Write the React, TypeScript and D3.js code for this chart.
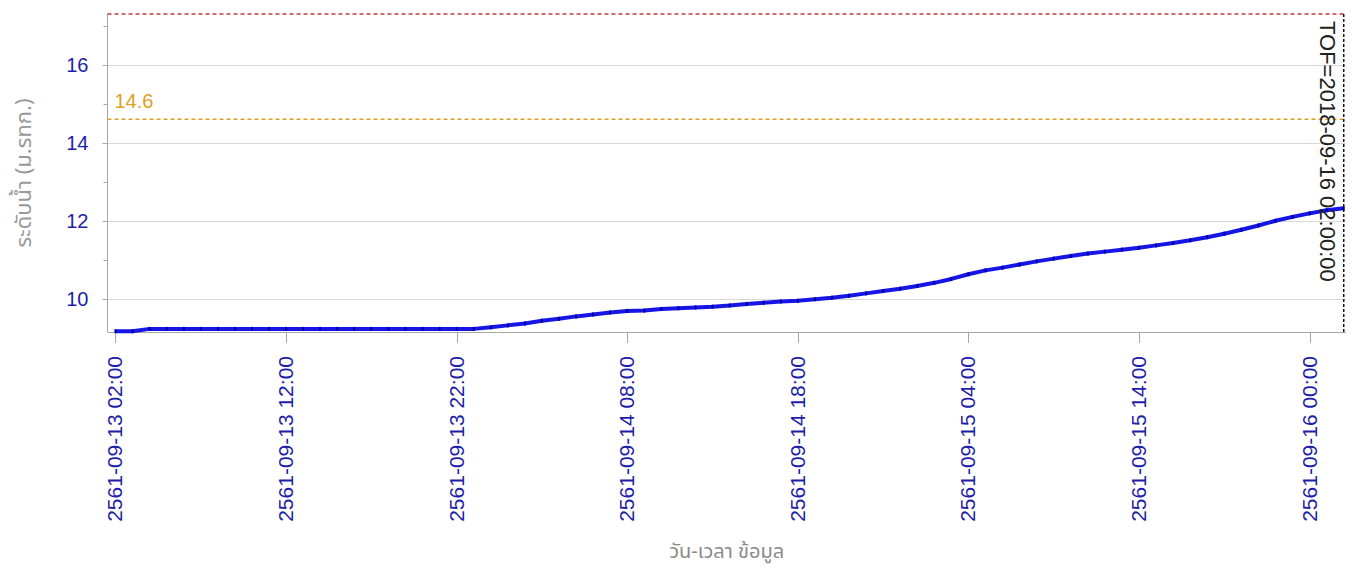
import * as d3 from 'd3';
import React, { useRef, useEffect } from 'react';

// hourly water level readings, starting 2018-09-13 02:00 (shown as BE 2561)
const startTime = new Date(2018, 8, 13, 2, 0);
const levels = [
    9.17, 9.17, 9.23, 9.23, 9.23, 9.23, 9.23, 9.23, 9.23, 9.23, 9.23,
    9.23, 9.23, 9.23, 9.23, 9.23, 9.23, 9.23, 9.23, 9.23, 9.23, 9.23,
    9.27, 9.32, 9.37, 9.44, 9.49, 9.55, 9.60, 9.65, 9.69,
    9.70, 9.74, 9.76, 9.78, 9.80, 9.83, 9.87, 9.90, 9.93, 9.95,
    9.99, 10.03, 10.08, 10.14, 10.20, 10.26, 10.33, 10.41, 10.51, 10.63,
    10.73, 10.80, 10.88, 10.96, 11.03, 11.10, 11.16, 11.21, 11.26, 11.31,
    11.37, 11.43, 11.50, 11.58, 11.67, 11.77, 11.88, 12.00, 12.10, 12.19,
    12.27, 12.32
];

// axis setup
const timeDomain = [new Date(2018, 8, 13, 1, 32), new Date(2018, 8, 16, 2, 8)];
const levelDomain = [9.15, 17.3];
const yTicks = [10, 12, 14, 16];
const yMinorTicks = [11, 13, 15, 17];
const tickEveryHours = 10;

// reference lines
const bankLevel = 17.3;
const warnLevel = 14.6;
const tofTime = new Date(2018, 8, 16, 2, 0);
const tofLabel = 'TOF=2018-09-16 02:00:00';

const yTitle = 'ระดับน้ำ (ม.รทก.)';
const xTitle = 'วัน-เวลา ข้อมูล';

const WaterLevelChart = () => {
    const svgRef = useRef(null);

    useEffect(() => {
        const width = 1356;
        const height = 571;
        const left = 107.5;
        const right = 1346;
        const top = 14;
        const bottom = 332;
        const numFont = "'Liberation Sans', Arial, sans-serif";
        const thaiFont = "Tahoma, 'Noto Sans Thai', 'Noto Sans', sans-serif";
        const tickColor = '#1e1ea8';

        const svg = d3.select(svgRef.current);
        svg.selectAll('*').remove();
        svg.attr('width', width).attr('height', height);

        const data = levels.map((v, i) => ({ t: d3.timeHour.offset(startTime, i), v }));

        const x = d3.scaleTime().domain(timeDomain).range([left, right]);
        const y = d3.scaleLinear().domain(levelDomain).range([bottom, top]);

        // grid
        svg.append('g')
            .selectAll('line')
            .data(yTicks)
            .enter().append('line')
            .attr('x1', left).attr('x2', right)
            .attr('y1', (d) => Math.round(y(d)) + 0.5)
            .attr('y2', (d) => Math.round(y(d)) + 0.5)
            .attr('stroke', '#d8d8d8');

        // y axis
        const yAxis = svg.append('g');
        yAxis.append('line')
            .attr('x1', left).attr('x2', left)
            .attr('y1', top).attr('y2', bottom)
            .attr('stroke', '#a8a8a8');
        yAxis.selectAll('.maj')
            .data(yTicks)
            .enter().append('line')
            .attr('x1', left - 5).attr('x2', left)
            .attr('y1', (d) => Math.round(y(d)) + 0.5)
            .attr('y2', (d) => Math.round(y(d)) + 0.5)
            .attr('stroke', '#a8a8a8');
        yAxis.selectAll('.min')
            .data(yMinorTicks)
            .enter().append('line')
            .attr('x1', left - 4).attr('x2', left)
            .attr('y1', (d) => Math.round(y(d)) + 0.5)
            .attr('y2', (d) => Math.round(y(d)) + 0.5)
            .attr('stroke', '#a8a8a8');
        yAxis.selectAll('text')
            .data(yTicks)
            .enter().append('text')
            .attr('x', left - 19)
            .attr('y', (d) => y(d))
            .attr('dy', '0.36em')
            .attr('text-anchor', 'end')
            .style('font-family', numFont)
            .style('font-size', '20px')
            .style('fill', tickColor)
            .text((d) => d);

        // x axis
        const xTickValues = data.filter((d, i) => i % tickEveryHours === 0).map((d) => d.t);
        const fmt = d3.timeFormat('-%m-%d %H:%M');
        const xAxis = svg.append('g');
        xAxis.append('line')
            .attr('x1', left).attr('x2', right)
            .attr('y1', bottom + 0.5).attr('y2', bottom + 0.5)
            .attr('stroke', '#a8a8a8');
        xAxis.selectAll('line.tick')
            .data(xTickValues)
            .enter().append('line')
            .attr('x1', (d) => Math.round(x(d)) + 0.5)
            .attr('x2', (d) => Math.round(x(d)) + 0.5)
            .attr('y1', bottom).attr('y2', bottom + 11)
            .attr('stroke', '#a8a8a8');
        xAxis.selectAll('text')
            .data(xTickValues)
            .enter().append('text')
            .attr('transform', (d) => `translate(${x(d)},${bottom + 24}) rotate(-90)`)
            .attr('dy', '0.33em')
            .attr('text-anchor', 'end')
            .style('font-family', numFont)
            .style('font-size', '21px')
            .style('fill', tickColor)
            .text((d) => `${d.getFullYear() + 543}${fmt(d)}`);

        // reference lines
        svg.append('line')
            .attr('x1', left).attr('x2', right)
            .attr('y1', y(bankLevel)).attr('y2', y(bankLevel))
            .attr('stroke', '#c03838')
            .attr('stroke-width', 1.5)
            .attr('stroke-dasharray', '4,3');
        svg.append('line')
            .attr('x1', left).attr('x2', right)
            .attr('y1', y(warnLevel)).attr('y2', y(warnLevel))
            .attr('stroke', '#e0a020')
            .attr('stroke-width', 1.5)
            .attr('stroke-dasharray', '4,3');
        svg.append('text')
            .attr('x', left + 7)
            .attr('y', y(warnLevel) - 11)
            .style('font-family', numFont)
            .style('font-size', '20px')
            .style('fill', '#e0a020')
            .text(warnLevel);

        // series
        const line = d3.line()
            .x((d) => x(d.t))
            .y((d) => y(d.v));
        svg.append('path')
            .datum(data)
            .attr('d', line)
            .attr('fill', 'none')
            .attr('stroke', '#1515e8')
            .attr('stroke-width', 4)
            .attr('stroke-linejoin', 'round');
        svg.append('g')
            .selectAll('rect')
            .data(data)
            .enter().append('rect')
            .attr('x', (d) => x(d.t) - 1)
            .attr('y', (d) => y(d.v) - 2)
            .attr('width', 2)
            .attr('height', 4)
            .attr('fill', '#0000a0');

        // TOF marker
        svg.append('line')
            .attr('x1', x(tofTime)).attr('x2', x(tofTime))
            .attr('y1', top).attr('y2', bottom)
            .attr('stroke', '#111')
            .attr('stroke-width', 1.5)
            .attr('stroke-dasharray', '3,2');
        svg.append('text')
            .attr('transform', `translate(${x(tofTime) - 24},${top + 7}) rotate(90)`)
            .style('font-family', numFont)
            .style('font-size', '22px')
            .style('fill', '#222')
            .text(tofLabel);

        // axis titles
        svg.append('text')
            .attr('transform', `translate(${31},${(top + bottom) / 2}) rotate(-90)`)
            .attr('text-anchor', 'middle')
            .style('font-family', thaiFont)
            .style('font-size', '22px')
            .style('fill', '#999')
            .text(yTitle);
        svg.append('text')
            .attr('x', (left + right) / 2)
            .attr('y', 558)
            .attr('text-anchor', 'middle')
            .style('font-family', thaiFont)
            .style('font-size', '20px')
            .style('fill', '#8a8a8a')
            .text(xTitle);
    }, []);

    return (
        <svg ref={svgRef} style={{ position: 'absolute', left: 0, top: 0, background: '#fff' }}></svg>
    );
};

export default function App() {
    return <WaterLevelChart />;
}
